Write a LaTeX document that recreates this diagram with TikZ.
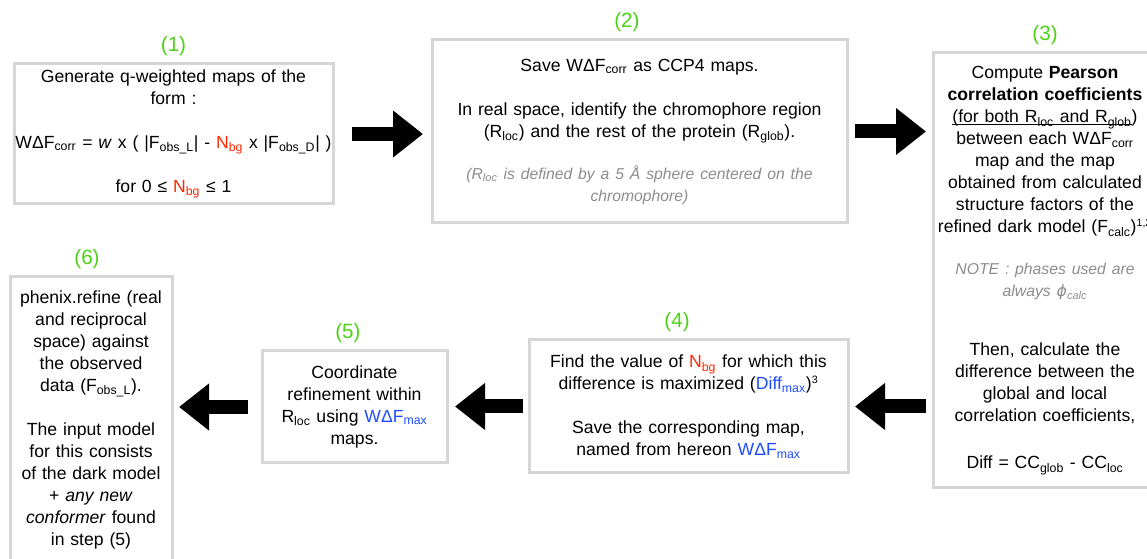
\documentclass[tikz,border=0pt]{standalone}
\usepackage{fontspec}
\setmainfont{Liberation Sans}
\newfontfamily\phifont{DejaVu Sans}
\usetikzlibrary{positioning, arrows.meta}

\definecolor{stepgreen}{RGB}{76,210,20}
\definecolor{bgred}{RGB}{255,38,0}
\definecolor{maxblue}{RGB}{30,75,255}
\definecolor{notegray}{RGB}{140,140,140}
\definecolor{boxgray}{RGB}{214,214,214}

\newcommand{\sbs}[1]{\textsubscript{#1}}
\newcommand{\nbg}{\textcolor{bgred}{N\sbs{bg}}}
\newcommand{\wmax}{\textcolor{maxblue}{WΔF\sbs{max}}}
\newcommand{\fullline}[1]{\makebox[\hsize]{#1}}
\newcommand{\notetext}[1]{{\color{notegray}\itshape\fontsize{11.8}{15}\selectfont #1}}

\begin{document}
\begin{tikzpicture}[x=0.75pt, y=-0.75pt,
    box/.style={draw=boxgray, line width=2.25pt, outer sep=0pt, inner sep=1pt,
      align=center, font=\fontsize{13.2}{16.5}\selectfont},
    steplabel/.style={text=stepgreen, inner sep=0pt, font=\fontsize{15.5}{17}\selectfont},
    bigarrow/.style={line width=10.5pt, -{Triangle[length=22.5pt, width=33.75pt]}}
  ]
  \useasboundingbox (0,0) rectangle (1147,559);

  % top row
  \node[box, minimum width=239.25pt, minimum height=105pt, text width=237pt] (b1) at (173.5,134)
    {Generate q-weighted maps of the\\
     form :\\[16.5pt]
     \fullline{WΔF\sbs{corr} = \textit{w} x ( |F\sbs{obs\_L}| - \nbg{} x |F\sbs{obs\_D}| )}\\[16.5pt]
     for 0 ≤ \nbg{} ≤ 1};
  \node[box, minimum width=311.25pt, minimum height=137.25pt, text width=309pt] (b2) at (639.5,131.5)
    {Save WΔF\sbs{corr} as CCP4 maps.\\[16.5pt]
     \fullline{In real space, identify the chromophore region}\\
     (R\sbs{loc}) and the rest of the protein (R\sbs{glob}).\\[16.5pt]
     \notetext{\fullline{(R\sbs{loc} is defined by a 5 Å sphere centered on the}\\ chromophore)}};
  \node[box, minimum width=168pt, minimum height=326.25pt, text width=166pt] (b3) at (1045,270.5)
    {Compute \textbf{Pearson}\\
     \fullline{\textbf{correlation coefficients}}\\
     \underline{\smash{(for both R\sbs{loc} and R\sbs{glob}}})\\
     between each WΔF\sbs{corr}\\
     map and the map\\
     \fullline{obtained from calculated}\\
     \fullline{structure factors of the}\\
     \fullline{refined dark model (F\sbs{calc})\textsuperscript{\footnotesize 1,2}}\\[16.5pt]
     \notetext{NOTE : phases used are\\ always {\phifont ϕ}\sbs{calc}}\\[28pt]
     Then, calculate the\\
     \fullline{difference between the}\\
     global and local\\
     \fullline{correlation coefficients,}\\[18.5pt]
     Diff = CC\sbs{glob} - CC\sbs{loc}};

  % bottom row
  \node[box, minimum width=239.25pt, minimum height=99.75pt, text width=237pt] (b4) at (688.5,406.5)
    {\fullline{Find the value of \nbg{} for which this}\\
     \fullline{difference is maximized (\textcolor{maxblue}{Diff\sbs{max}})\textsuperscript{\footnotesize 3}}\\[16.5pt]
     Save the corresponding map,\\
     named from hereon \wmax};
  \node[box, minimum width=138.75pt, minimum height=84pt, text width=136pt] (b5) at (354.5,407)
    {Coordinate\\
     \fullline{refinement within}\\
     \fullline{R\sbs{loc} using \wmax}\\
     maps.};
  \node[box, minimum width=121.5pt, minimum height=214.5pt, text width=119pt] (b6) at (91,420)
    {\fullline{phenix.refine (real}\\
     and reciprocal\\
     space) against\\
     the observed\\
     data (F\sbs{obs\_L}).\\[16.5pt]
     \fullline{The input model}\\
     \fullline{for this consists}\\
     \fullline{of the dark model}\\
     + \textit{any new}\\
     \fullline{\textit{conformer} found}\\
     in step (5)};

  % step numbers
  \node[steplabel, above=6pt of b1] (l1) {(1)};
  \node[steplabel, above=6pt of b2, xshift=-9.4pt] (l2) {(2)};
  \node[steplabel, above=6pt of b3] (l3) {(3)};
  \node[steplabel, above=6pt of b4, xshift=-8.6pt] (l4) {(4)};
  \node[steplabel, above=6pt of b5, xshift=-4.9pt] (l5) {(5)};
  \node[steplabel, above=6pt of b6, xshift=-3pt] (l6) {(6)};

  % arrows
  \draw[bigarrow, shorten <=14.25pt, shorten >=6.75pt] (b1.east) -- (b1.east -| b2.west);
  \draw[bigarrow, shorten <=6pt, shorten >=5.25pt] (b2.east) -- (b2.east -| b3.west);
  \draw[bigarrow, shorten <=5.25pt, shorten >=5.25pt] (b4.east -| b3.west) -- (b4.east);
  \draw[bigarrow, shorten <=4.5pt, shorten >=6pt] (b4.west) -- (b4.west -| b5.east);
  \draw[bigarrow, shorten <=10.5pt, shorten >=5.25pt] (b5.west) -- (b5.west -| b6.east);
\end{tikzpicture}
\end{document}
